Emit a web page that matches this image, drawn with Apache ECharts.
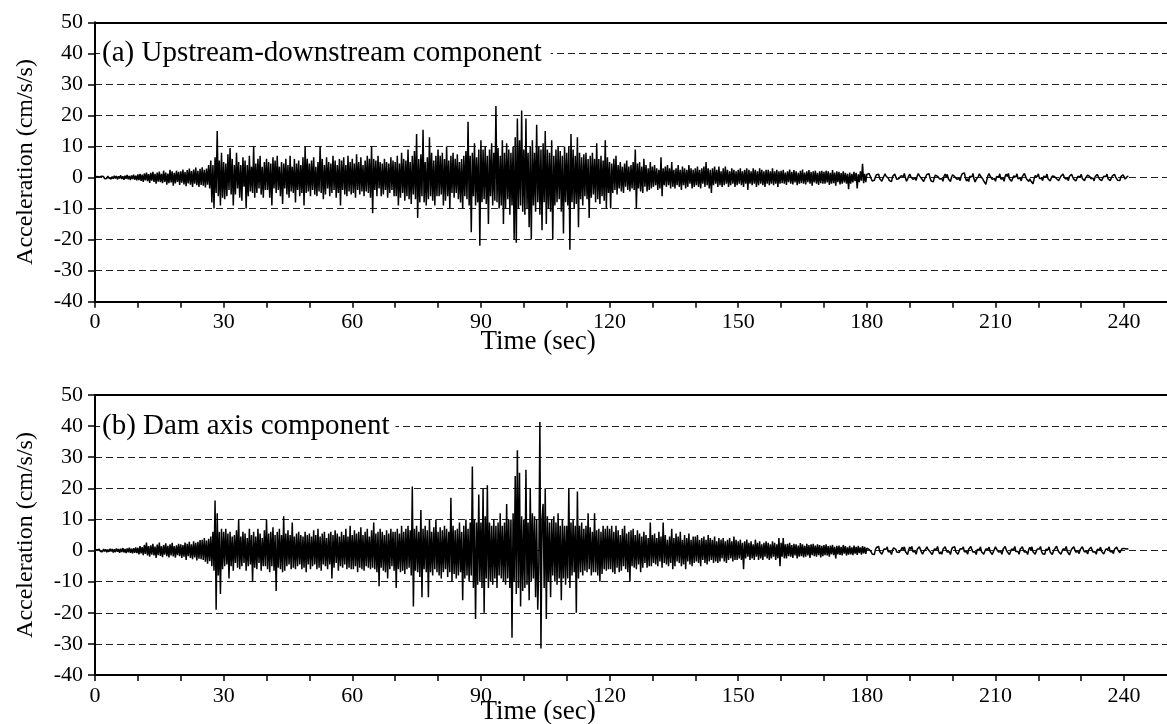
<!DOCTYPE html>
<html>
<head>
<meta charset="utf-8">
<script src="https://cdn.jsdelivr.net/npm/echarts@6/dist/echarts.min.js"></script>
<style>
  html, body { margin: 0; padding: 0; background: #fff; }
  #chart { width: 1167px; height: 724px; }
</style>
</head>
<body>
<div id="chart"></div>
<script>
// ---- data (sampling step 0.25 s, starting at t = 0 s; one row = 10 s) ----
const DT = 0.25;
const panelTitles = ['(a) Upstream-downstream component', '(b) Dam axis component'];
const xAxisName = 'Time (sec)';
const yAxisName = 'Acceleration (cm/s/s)';
const xLabelStep = 30;

const udAccel = [
  0.1,-0.2,0.3,-0.1,0.2,-0.3,0.4,-0.2,0.3,-0.4,0.2,-0.3,0.5,-0.2,0.4,-0.5,0.3,-0.4,0.6,-0.3,0.5,-0.6,0.4,-0.3,0.7,-0.5,0.4,-0.7,0.6,-0.4,0.8,-0.6,0.5,-0.8,0.7,-0.5,0.9,-0.7,0.6,-0.9,
  1.0,-0.8,1.2,-1.1,0.9,-1.4,1.3,-0.9,1.6,-1.2,1.1,-1.7,1.5,-1.0,1.8,-1.4,1.2,-2.0,1.6,-1.3,1.9,-1.5,1.2,-1.8,2.2,-1.4,1.6,-2.3,1.3,-1.8,2.5,-1.6,2.0,-2.6,1.5,-1.9,2.2,-1.4,1.8,-2.4,
  2.0,-1.7,2.6,-2.2,1.8,-2.8,2.4,-1.9,2.9,-2.3,2.1,-3.0,2.6,-2.0,3.2,-2.5,2.2,-3.0,2.8,-2.4,3.3,-2.6,2.5,-3.2,2.9,-2.3,4.0,-3.5,5.5,-8.0,4.0,-10.0,6.5,-5.0,15.0,-6.0,5.5,-9.0,8.0,-6.5,
  5.0,-7.0,4.5,-6.0,7.5,-4.0,9.5,-5.5,6.0,-9.0,4.0,-5.5,8.0,-3.5,5.0,-6.5,4.0,-7.5,6.5,-3.0,5.5,-10.0,4.0,-6.0,7.0,-4.5,3.5,-5.0,10.0,-6.5,4.5,-5.0,6.0,-3.5,7.0,-5.5,3.5,-6.5,5.0,-4.0,
  6.0,-4.0,5.0,-6.5,4.5,-9.0,6.5,-3.5,5.5,-5.0,7.0,-4.0,3.5,-6.0,5.0,-8.5,4.5,-3.5,6.0,-5.5,4.0,-6.5,7.0,-4.5,3.5,-5.0,6.0,-8.0,4.5,-4.0,5.5,-6.0,4.0,-5.0,6.5,-9.0,10.0,-5.0,6.0,-4.5,
  4.5,-6.0,5.5,-4.0,6.5,-5.5,3.5,-6.0,5.0,-4.5,10.0,-5.0,6.0,-7.0,4.0,-5.5,6.5,-3.5,5.0,-6.0,4.5,-5.0,7.0,-4.0,5.5,-6.5,4.0,-5.0,6.0,-9.0,5.5,-4.0,6.5,-5.5,4.0,-6.0,7.0,-4.5,5.0,-5.5,
  6.0,-5.0,4.5,-6.5,7.5,-4.0,5.0,-5.5,6.5,-4.5,4.0,-6.0,5.5,-4.5,7.0,-5.0,6.0,-6.5,10.0,-11.5,6.0,-4.0,5.5,-6.0,7.0,-3.5,5.0,-6.0,4.5,-5.5,6.0,-4.0,5.0,-6.5,4.5,-5.0,6.5,-4.0,5.5,-6.0,
  5.0,-6.0,7.0,-9.0,4.5,-6.5,8.0,-5.0,6.0,-7.5,5.5,-6.0,9.0,-7.0,5.0,-8.5,7.0,-5.5,8.5,-7.0,14.0,-13.0,6.0,-8.0,7.5,-6.0,15.4,-8.0,5.0,-9.0,6.5,-7.0,13.0,-6.0,8.0,-7.5,5.5,-9.0,7.0,-6.0,
  9.0,-6.0,7.0,-5.5,8.0,-9.0,6.0,-7.5,10.0,-6.0,5.5,-10.0,7.0,-5.0,8.0,-6.5,6.0,-5.0,7.5,-7.0,5.0,-8.0,6.0,-10.0,7.0,-6.0,8.5,-7.0,18.0,-9.0,7.0,-17.6,8.0,-6.0,11.0,-9.0,6.5,-8.0,9.0,-22.0,
  12.0,-8.0,9.0,-7.0,10.0,-8.5,7.0,-15.0,9.0,-6.0,11.0,-9.0,8.0,-7.5,23.0,-8.0,9.5,-10.0,7.0,-9.0,12.0,-15.0,8.0,-10.0,11.0,-7.0,9.0,-12.0,8.0,-9.0,10.0,-20.0,13.0,-21.0,19.0,-10.0,12.0,-9.0,21.6,-11.0,
  9.0,-12.0,19.0,-10.0,8.0,-16.0,10.0,-20.0,12.0,-9.0,8.0,-11.0,17.0,-8.0,10.0,-12.0,9.0,-17.0,11.0,-8.0,15.0,-15.0,9.0,-10.0,8.0,-11.0,12.0,-20.0,7.0,-9.0,9.0,-8.0,10.0,-7.0,8.5,-11.0,7.0,-18.0,10.0,-8.0,
  8.0,-9.0,10.0,-23.3,14.0,-8.0,9.0,-10.0,7.0,-8.5,13.0,-16.0,8.0,-7.0,6.5,-9.0,7.5,-6.0,8.0,-7.0,6.0,-13.0,7.0,-6.5,8.0,-5.5,6.0,-8.0,11.0,-7.0,6.0,-8.5,7.0,-6.0,5.5,-7.5,12.0,-10.0,6.5,-5.0,
  5.0,-10.0,4.5,-5.0,6.0,-4.0,7.0,-5.5,4.0,-3.5,5.0,-4.5,3.5,-5.0,4.5,-3.0,5.5,-4.0,3.5,-4.5,4.0,-3.5,5.0,-4.0,9.0,-10.0,4.5,-3.5,5.0,-4.5,3.5,-5.0,6.0,-3.0,4.0,-4.5,3.0,-4.0,5.0,-3.5,
  3.5,-3.0,4.0,-2.5,3.0,-4.0,2.5,-3.5,6.5,-6.0,3.0,-2.5,3.5,-3.0,4.0,-2.5,3.0,-3.5,5.0,-3.0,2.5,-3.5,3.0,-2.5,4.0,-3.0,2.5,-4.0,3.5,-2.5,3.0,-3.5,2.5,-3.0,4.0,-2.0,3.0,-3.5,2.5,-3.0,
  3.0,-2.5,3.5,-3.0,2.5,-3.5,3.0,-2.0,3.5,-3.0,5.0,-2.5,3.0,-3.5,2.5,-5.0,3.0,-2.5,3.5,-2.0,2.5,-3.0,3.5,-2.5,2.0,-3.0,3.0,-2.5,3.5,-2.0,2.5,-3.0,2.0,-2.5,3.0,-2.0,2.5,-3.0,2.0,-2.5,
  2.5,-2.0,3.0,-2.5,2.0,-3.0,2.5,-2.0,3.0,-4.0,2.5,-2.0,2.0,-2.5,3.0,-2.0,2.5,-3.0,2.0,-2.5,3.0,-2.0,2.5,-2.5,2.0,-3.0,2.5,-2.0,2.5,-2.5,2.0,-2.0,3.0,-2.5,2.0,-2.0,2.5,-3.0,2.0,-2.0,
  2.2,-1.8,2.5,-2.0,1.6,-2.4,2.0,-1.5,2.6,-2.0,1.8,-2.2,2.4,-1.6,2.0,-2.5,1.5,-2.0,2.2,-1.8,2.6,-2.0,1.6,-2.2,2.0,-1.5,2.4,-2.0,1.8,-2.6,2.0,-1.6,2.2,-2.0,1.5,-2.4,2.0,-1.8,2.2,-2.0,
  1.8,-2.0,2.2,-1.6,2.0,-2.4,1.5,-2.0,2.4,-1.8,1.6,-2.6,2.0,-1.5,1.8,-2.2,1.4,-2.0,2.0,-1.6,1.5,-2.0,1.2,-3.8,1.6,-2.0,1.2,-1.6,1.8,-1.2,1.5,-3.5,1.0,-1.5,2.0,-1.0,4.4,-1.8,1.2,-1.5,
  1.0,0.4,1.3,0.6,-0.3,-1.1,-0.5,-0.9,0.2,0.9,0.3,1.1,-0.4,-0.8,-1.2,-0.3,0.5,1.2,0.4,0.8,-0.2,-1.0,-0.4,-1.3,0.3,0.7,1.1,0.2,-0.6,-1.0,-0.3,-0.8,0.6,1.0,0.3,1.3,-0.1,-1.2,-0.5,0.4,
  1.1,0.3,0.9,-0.6,-1.2,-0.2,-0.9,0.5,1.3,0.6,1.0,-0.3,-0.8,-1.3,-0.4,0.2,1.0,0.5,1.2,-0.2,-1.1,-0.6,-1.4,0.1,0.8,1.3,0.4,0.9,-0.5,-1.0,-0.3,-1.2,0.4,1.1,0.2,1.0,-0.4,-0.9,-1.3,0.1,
  0.9,1.4,0.3,0.8,-0.6,-1.2,-0.3,-1.0,0.5,1.2,0.6,1.5,-0.2,-1.1,-0.4,-1.3,0.4,1.0,0.2,1.3,-0.5,-1.4,-0.6,-0.9,0.3,1.2,0.5,1.0,-0.4,-1.1,-0.5,-2.2,-0.7,0.6,1.3,0.4,1.0,-0.6,-1.1,-0.3,
  -1.2,0.3,0.9,0.2,1.2,-0.5,-1.0,-0.3,-1.2,0.4,1.1,0.3,1.3,-0.4,-0.9,-1.2,-0.3,0.5,1.0,0.2,1.2,-0.4,-1.0,-0.2,-1.1,0.3,0.9,1.3,0.4,-0.5,-0.9,-1.3,-0.4,-1.1,-0.6,-2.0,-0.5,0.6,1.1,0.3,
  1.2,-0.3,-0.9,-0.2,-1.0,0.4,0.8,0.2,1.1,-0.4,-0.8,-1.1,-0.2,0.5,1.0,0.3,0.9,-0.4,-0.7,-1.0,-0.3,0.4,0.8,1.1,0.3,-0.4,-0.9,-0.3,-1.0,0.4,0.7,1.0,0.2,-0.5,-0.8,-1.1,-0.3,0.4,0.9,0.2,
  1.0,-0.3,-0.7,-1.0,-0.2,0.4,0.8,1.1,0.3,-0.4,-0.9,-0.2,-1.1,0.3,0.7,1.0,0.2,-0.5,-0.8,-1.0,-0.3,0.4,0.9,0.3,1.1,-0.4,-0.7,-1.0,-0.2,0.5,0.8,1.0,0.2,-0.4,-0.9,-0.3,-1.0,0.3,0.7,0.9,
  0.2,-0.5,-0.7,0.3,0.4
];

const damAccel = [
  0.2,-0.3,0.3,-0.2,0.4,-0.3,0.2,-0.4,0.5,-0.3,0.4,-0.5,0.3,-0.4,0.6,-0.3,0.5,-0.6,0.4,-0.5,0.7,-0.4,0.5,-0.7,0.6,-0.5,0.8,-0.6,0.5,-0.8,0.7,-0.6,0.9,-0.7,0.6,-0.9,0.8,-0.7,1.0,-0.8,
  0.9,-1.2,1.4,-0.9,1.1,-1.5,1.8,-1.1,2.6,-1.6,1.4,-2.0,1.7,-1.3,2.2,-1.6,1.3,-2.4,1.9,-1.5,2.6,-1.7,1.4,-2.1,1.8,-1.3,2.3,-1.8,1.5,-2.2,2.0,-1.6,2.5,-1.9,1.4,-2.3,1.7,-1.5,2.2,-1.8,
  2.0,-2.4,1.8,-2.0,2.6,-3.0,2.2,-1.8,2.8,-2.4,2.0,-2.8,3.0,-2.2,2.5,-3.2,2.8,-2.6,3.4,-2.8,3.5,-3.0,4.0,-3.6,3.2,-4.2,3.8,-3.4,4.5,-5.0,6.0,-6.5,16.1,-19.0,12.0,-8.0,6.0,-14.0,7.0,-6.0,
  6.0,-5.0,7.0,-4.5,5.5,-9.0,6.0,-5.0,4.5,-6.5,5.0,-4.0,6.5,-5.5,10.0,-6.0,4.5,-5.0,6.0,-4.0,5.5,-6.5,4.0,-5.0,7.0,-4.5,5.0,-10.0,6.0,-5.5,4.5,-6.0,7.0,-4.0,5.5,-6.5,4.0,-5.0,6.5,-5.0,
  10.0,-6.0,5.5,-7.0,6.0,-5.0,7.5,-6.5,5.0,-13.0,6.0,-5.5,7.0,-6.0,5.0,-7.0,11.0,-6.5,5.5,-5.0,6.5,-4.5,5.0,-6.0,9.0,-5.5,4.5,-6.0,5.5,-5.0,6.0,-4.5,5.0,-6.0,4.5,-5.5,6.0,-7.0,5.0,-4.5,
  5.5,-6.0,4.5,-5.0,6.5,-4.5,5.0,-6.0,7.0,-5.5,4.5,-6.5,5.5,-4.5,6.0,-5.0,4.0,-6.0,5.5,-4.5,6.0,-9.0,5.0,-5.5,6.5,-4.0,5.5,-6.5,4.5,-5.0,6.0,-5.5,5.0,-4.5,7.0,-6.0,4.5,-5.5,8.0,-6.0,
  5.0,-6.0,6.5,-5.0,5.5,-7.0,6.0,-5.5,7.5,-6.0,5.0,-6.5,6.0,-5.0,7.0,-5.5,4.5,-6.0,6.5,-5.5,9.0,-6.0,5.5,-7.0,6.0,-11.5,7.0,-5.5,6.0,-6.5,5.0,-7.0,6.5,-9.0,5.5,-6.0,7.0,-5.0,6.0,-6.5,
  6.0,-12.0,7.0,-6.0,5.5,-7.0,8.0,-6.5,6.0,-7.5,7.0,-6.0,8.0,-5.5,6.5,-8.0,20.6,-18.0,7.0,-6.5,8.0,-7.0,6.0,-8.5,13.0,-15.0,7.0,-6.0,8.0,-7.0,6.5,-15.0,10.0,-7.0,6.0,-8.0,7.5,-6.0,10.0,-7.0,
  6.0,-8.0,7.5,-9.0,6.5,-7.0,8.0,-6.0,7.0,-8.5,6.0,-7.0,17.0,-10.0,8.0,-7.5,6.5,-9.0,7.0,-8.0,9.0,-7.0,6.0,-16.0,8.0,-9.0,10.0,-8.0,7.0,-10.0,9.0,-8.0,27.0,-12.0,10.0,-22.0,9.0,-11.0,18.0,-10.0,
  9.0,-12.0,20.0,-20.0,11.0,-9.0,21.0,-12.0,9.0,-10.0,8.0,-11.0,10.0,-9.0,8.0,-12.0,9.0,-8.0,12.0,-9.0,8.0,-10.0,9.0,-11.0,15.0,-9.0,10.0,-12.0,10.0,-28.0,12.0,-10.0,24.0,-14.0,32.2,-12.0,25.0,-18.0,11.0,-13.0,
  10.0,-12.0,26.0,-11.0,9.0,-16.0,20.0,-10.0,12.0,-9.0,11.0,-15.0,10.0,-19.0,-5.0,41.3,-31.5,10.0,15.0,-12.0,20.0,-22.0,11.0,-10.0,9.0,-15.0,10.0,-8.0,11.0,-10.0,9.0,-11.0,12.0,-9.0,8.0,-16.0,10.0,-9.0,8.0,-11.0,
  8.0,-9.0,20.0,-12.0,9.0,-8.0,10.0,-7.0,8.0,-20.0,19.0,-9.0,8.0,-7.0,9.0,-8.0,7.0,-6.5,8.0,-7.0,12.0,-6.0,7.5,-8.0,6.0,-7.0,12.0,-7.0,6.5,-8.0,7.0,-10.0,6.0,-7.5,8.0,-6.0,7.0,-6.5,8.0,-6.0,
  7.0,-6.0,8.0,-7.0,6.0,-7.5,8.0,-5.5,6.5,-7.0,5.0,-6.5,7.0,-5.0,8.0,-6.0,5.5,-7.0,6.0,-10.0,6.5,-5.0,7.0,-5.5,5.0,-6.0,6.5,-4.5,5.5,-7.0,4.5,-5.5,6.0,-4.0,5.0,-5.5,4.0,-5.0,9.0,-5.0,
  5.0,-4.0,5.5,-4.5,4.0,-5.0,6.0,-3.5,4.5,-5.5,9.0,-4.0,5.0,-4.5,3.5,-5.0,4.5,-4.0,7.0,-6.0,4.0,-5.0,5.5,-3.5,4.5,-4.0,6.0,-5.0,3.5,-4.5,5.0,-6.0,4.0,-3.5,5.5,-4.5,3.5,-5.0,4.5,-4.0,
  4.5,-3.5,5.0,-4.0,3.5,-5.0,4.0,-3.0,4.5,-4.0,3.5,-4.5,5.0,-3.5,4.0,-3.0,3.5,-4.0,4.5,-3.5,3.0,-4.0,4.0,-3.5,3.5,-2.5,4.0,-3.5,3.0,-4.0,3.5,-3.0,4.0,-2.5,3.0,-3.5,4.5,-3.0,3.5,-3.0,
  3.0,-2.5,3.5,-3.0,2.5,-6.0,3.0,-2.5,3.5,-2.0,2.5,-3.0,3.0,-2.5,2.0,-3.0,3.5,-2.0,2.5,-3.0,3.0,-2.5,2.0,-3.0,2.5,-2.0,3.0,-2.5,2.5,-3.0,2.0,-2.5,3.0,-2.0,2.5,-3.0,2.0,-2.5,4.0,-5.0,
  2.5,-2.0,4.0,-2.5,2.0,-2.5,2.2,-1.8,2.5,-2.0,1.8,-2.4,2.2,-1.6,2.0,-2.5,1.6,-2.0,2.4,-1.8,2.0,-2.2,1.5,-2.0,2.2,-1.6,1.8,-2.4,2.0,-1.5,2.2,-1.8,1.6,-2.0,2.0,-1.5,1.8,-2.2,1.5,-1.8,
  1.8,-1.5,2.0,-1.6,1.4,-2.0,1.6,-1.2,1.8,-1.5,1.2,-2.5,1.5,-1.2,1.6,-1.4,1.2,-1.6,1.8,-1.0,1.4,-1.6,1.0,-1.3,1.5,-1.2,1.0,-1.5,1.6,-1.0,1.2,-1.4,1.5,-0.8,1.0,-1.3,1.4,-0.9,1.2,-1.1,
  0.8,1.3,0.4,0.9,-0.4,-1.1,-0.5,-1.3,0.3,1.0,0.4,1.3,-0.3,-0.9,-1.2,-0.4,0.5,1.1,0.4,1.2,-0.4,-1.0,-0.4,-1.3,0.2,0.9,1.3,0.4,-0.5,-1.1,-0.6,-1.2,0.3,1.0,0.3,1.2,-0.3,-0.8,-1.3,0.2,
  1.1,0.4,1.3,-0.4,-1.0,-0.3,-1.2,0.4,0.8,1.2,0.3,-0.5,-1.2,-0.4,-1.0,0.5,1.2,0.4,1.0,-0.4,-0.9,-1.3,-0.3,0.5,1.0,0.4,1.3,-0.3,-1.1,-0.4,-1.2,0.4,0.9,1.2,0.3,-0.5,-1.0,-0.4,-1.3,0.3,
  1.0,0.4,1.2,-0.4,-0.8,-1.2,-0.3,0.6,1.1,0.5,1.2,-0.4,-1.0,-0.3,-1.2,0.4,0.8,1.3,0.3,-0.5,-1.1,-0.4,-1.3,0.3,0.9,0.3,1.2,-0.4,-0.9,-1.2,-0.3,0.5,1.0,0.4,1.1,-0.3,-0.8,-1.3,-0.4,0.4,
  1.2,0.4,1.0,-0.5,-1.1,-0.3,-1.2,0.4,0.9,1.3,0.3,-0.4,-1.0,-1.3,-0.4,0.5,1.1,0.3,1.3,-0.3,-0.9,-0.3,-1.2,0.4,0.8,1.2,0.3,-0.5,-1.0,-0.4,-1.3,0.3,1.0,0.3,1.2,-0.4,-0.9,-1.2,-0.3,0.5,
  1.1,0.5,1.3,-0.3,-1.0,-0.4,-1.2,0.4,0.9,0.3,1.2,-0.5,-1.1,-1.3,-0.3,0.4,1.0,1.4,0.3,-0.4,-0.8,-1.2,-0.3,0.5,1.1,0.4,1.3,-0.3,-0.9,-1.4,-0.4,0.4,0.8,1.2,0.3,-0.5,-1.1,-0.3,-1.0,0.3,
  0.9,1.2,0.3,-0.4,-0.9,-0.3,-1.1,0.3,0.8,1.1,0.3,-0.5,-1.0,-0.4,-1.2,0.4,0.9,0.3,1.1,-0.3,-0.8,-1.1,-0.3,0.5,1.0,0.4,1.2,-0.4,-0.9,-0.3,-1.0,0.4,0.8,1.1,0.3,-0.3,-0.7,-0.2,0.6,1.0,
  0.7,1.1,0.5,0.9,0.6
];

// ---- chart ----
const FONT = '"Liberation Serif", "Times New Roman", serif';
const toXY = arr => arr.map((v, i) => [i * DT, v]);

const grids = [
  { left: 95, top: 22.3, width: 1076, height: 279.4 },
  { left: 95, top: 395, width: 1076, height: 280 }
];

function bottomAxis(g) {
  return {
    type: 'value', gridIndex: g, position: 'bottom',
    min: 0, max: 250, interval: 10,
    axisLine: { show: true, onZero: false, lineStyle: { color: '#000', width: 2 } },
    axisTick: { show: true, inside: false, length: 6, lineStyle: { color: '#000', width: 1.5 } },
    axisLabel: {
      show: true, color: '#000', fontFamily: FONT, fontSize: 22, margin: 10,
      showMaxLabel: false,
      formatter: v => (Math.round(v) % xLabelStep === 0 ? String(Math.round(v)) : '')
    },
    splitLine: { show: false }
  };
}
function topAxis(g) {
  return {
    type: 'value', gridIndex: g, position: 'top',
    min: 0, max: 250,
    axisLine: { show: true, onZero: false, lineStyle: { color: '#000', width: 2 } },
    axisTick: { show: false }, axisLabel: { show: false }, splitLine: { show: false }
  };
}
function leftAxis(g) {
  return {
    type: 'value', gridIndex: g,
    min: -40, max: 50, interval: 10,
    name: yAxisName, nameLocation: 'middle', nameGap: 57, nameRotate: 90,
    nameTextStyle: { color: '#000', fontFamily: FONT, fontSize: 24 },
    axisLine: { show: true, onZero: false, lineStyle: { color: '#000', width: 2 } },
    axisTick: { show: true, inside: false, length: 7, lineStyle: { color: '#000', width: 1.5 } },
    axisLabel: { color: '#000', fontFamily: FONT, fontSize: 22, margin: 12 },
    splitLine: { show: true, lineStyle: { color: '#222', width: 1.2, type: [7, 4] } }
  };
}

const option = {
  backgroundColor: '#fff',
  animation: false,
  grid: grids,
  xAxis: [bottomAxis(0), bottomAxis(1), topAxis(0), topAxis(1)],
  yAxis: [leftAxis(0), leftAxis(1)],
  title: [
    { text: panelTitles[0], left: 100, top: 37, padding: [0, 9, 0, 2], backgroundColor: '#fff', z: 10,
      textStyle: { color: '#000', fontFamily: FONT, fontSize: 29, fontWeight: 'normal', lineHeight: 32 } },
    { text: panelTitles[1], left: 100, top: 410, padding: [0, 6, 0, 2], backgroundColor: '#fff', z: 10,
      textStyle: { color: '#000', fontFamily: FONT, fontSize: 29, fontWeight: 'normal', lineHeight: 32 } }
  ],
  graphic: [
    { type: 'text', x: 538, y: 342, z: 10,
      style: { text: xAxisName, font: '27px ' + FONT, fill: '#000', align: 'center', verticalAlign: 'middle',
               textAlign: 'center', textVerticalAlign: 'middle' } },
    { type: 'text', x: 538, y: 712, z: 10,
      style: { text: xAxisName, font: '27px ' + FONT, fill: '#000', align: 'center', verticalAlign: 'middle',
               textAlign: 'center', textVerticalAlign: 'middle' } }
  ],
  series: [
    { type: 'line', xAxisIndex: 0, yAxisIndex: 0, data: toXY(udAccel), showSymbol: false, sampling: 'none',
      lineStyle: { color: '#000', width: 1.5 }, z: 3 },
    { type: 'line', xAxisIndex: 1, yAxisIndex: 1, data: toXY(damAccel), showSymbol: false, sampling: 'none',
      lineStyle: { color: '#000', width: 1.5 }, z: 3 }
  ]
};

const chart = echarts.init(document.getElementById('chart'), null, { renderer: 'canvas' });
chart.setOption(option);
</script>
</body>
</html>
